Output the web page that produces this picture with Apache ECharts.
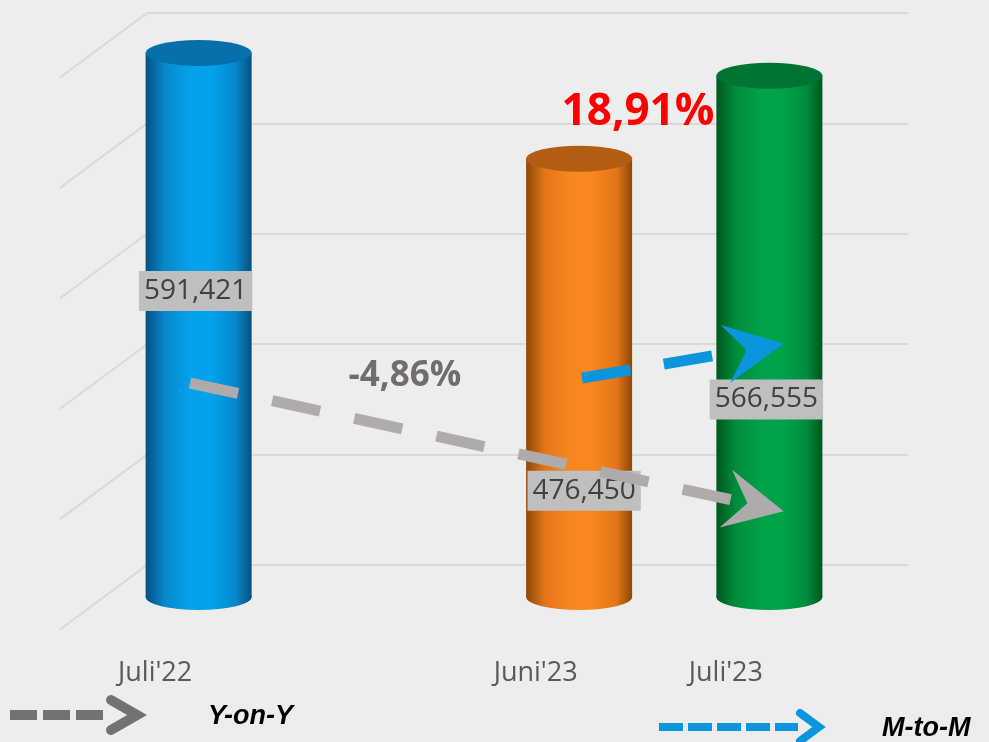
<!DOCTYPE html>
<html>
<head>
<meta charset="utf-8">
<script src="https://cdn.jsdelivr.net/npm/echarts@6/dist/echarts.min.js"></script>
<style>
html,body{margin:0;padding:0;background:#ededed;}
#chart{width:989px;height:742px;}
</style>
</head>
<body>
<div id="chart"></div>
<script>
// ---- data ----
const categories = ["Juli'22", "", "Juni'23", "Juli'23"];
const values = [591421, null, 476450, 566555];
const yMin = 0, yMax = 600000, yStep = 120000;
const yoyText = "-4,86%";
const mtmText = "18,91%";
// arrows in data space: [x position in category units, value]
const yoyArrow = [[-0.045, 232600], [2.923, 100100]];
const mtmArrow = [[2.015, 238000], [2.921, 269800]];
const legendNames = ["Y-on-Y", "M-to-M"];

// ---- styles ----
const palettes = [
  {dark:'#05507f', mid:'#0788cc', light:'#04a2ec', top:'#0670aa'},
  null,
  {dark:'#8e4708', mid:'#e47618', light:'#f8871f', top:'#b25e12'},
  {dark:'#00561f', mid:'#008c3c', light:'#00a24a', top:'#007533'}
];
function cyl(p){
  return {type:'linear',x:0,y:0,x2:1,y2:0,colorStops:[
    {offset:0,color:p.dark},{offset:0.18,color:p.mid},{offset:0.42,color:p.light},
    {offset:0.62,color:p.light},{offset:0.85,color:p.mid},{offset:1,color:p.dark}]};
}
const FONT = "'Open Sans', 'Noto Sans', sans-serif";
const labelOffsets = [[-3,-34],null,[5,113],[-3,63]];
const arrowHead = 'path://M22.5,0L45,59L22.5,37L0,59Z';

const ticks = [];
for (let v = yMin; v <= yMax; v += yStep) ticks.push(v);

const chart = echarts.init(document.getElementById('chart'), null, {renderer:'canvas'});

const option = {
  backgroundColor:'#ededed',
  animation:false,
  grid:[
    {left:147, right:81, top:13, bottom:177},
    {left:103.5, right:124.5, top:45, bottom:145},
    {left:60, right:168, top:77, bottom:112}
  ],
  xAxis:[
    {type:'category', gridIndex:0, data:categories, show:false},
    {type:'category', gridIndex:1, data:categories, show:false},
    {type:'category', gridIndex:2, data:categories,
      axisLine:{show:false}, axisTick:{show:false},
      axisLabel:{color:'#595959', fontSize:27, fontFamily:FONT, margin:30}},
    {type:'value', gridIndex:1, min:-0.5, max:3.5, show:false}
  ],
  yAxis:[
    {type:'value', gridIndex:0, min:yMin, max:yMax, interval:yStep,
      axisLine:{show:false}, axisTick:{show:false}, axisLabel:{show:false},
      splitLine:{show:true, lineStyle:{color:'#d9d9d9', width:2}}},
    {type:'value', gridIndex:1, min:yMin, max:yMax, interval:yStep, show:false, splitLine:{show:false}},
    {type:'value', gridIndex:2, min:yMin, max:yMax, interval:yStep, show:false, splitLine:{show:false}}
  ],
  series:[
    {
      type:'custom', xAxisIndex:0, yAxisIndex:0, silent:true, z:1,
      data: ticks.map(v => [0, v]),
      renderItem:(params, api) => {
        const cs = params.coordSys;
        const y = api.coord([0, api.value(1)])[1];
        return {type:'line', shape:{x1:cs.x, y1:y, x2:cs.x-87, y2:y+64.5},
          style:{stroke:'#d9d9d9', lineWidth:2}};
      }
    },
    {
      type:'pictorialBar', xAxisIndex:1, yAxisIndex:1, z:2, silent:true,
      symbol:'circle', symbolSize:[106,26], symbolPosition:'start', symbolOffset:[0,'50%'],
      data: values.map((v,i) => v == null ? '-' : {value:v, itemStyle:{color:cyl(palettes[i])}})
    },
    {
      type:'bar', xAxisIndex:1, yAxisIndex:1, z:3, barWidth:106, silent:true,
      data: values.map((v,i) => v == null ? '-' : {
        value:v, itemStyle:{color:cyl(palettes[i])},
        label:{offset:labelOffsets[i]}
      }),
      label:{show:true, position:'inside', fontFamily:FONT, fontSize:28, color:'#404040',
        backgroundColor:'#bfbfbf', padding:[5,5,5,5], lineHeight:30,
        formatter:p => Number(p.value).toLocaleString('en-US')}
    },
    {
      type:'pictorialBar', xAxisIndex:1, yAxisIndex:1, z:4, silent:true,
      symbol:'circle', symbolSize:[106,26], symbolPosition:'end', symbolOffset:[0,'-50%'],
      data: values.map((v,i) => v == null ? '-' : {value:v, itemStyle:{color:palettes[i].top}})
    },
    {
      type:'scatter', xAxisIndex:3, yAxisIndex:1, data:[], z:10, silent:true,
      markLine:{
        silent:true, animation:false, symbol:['none', arrowHead], symbolSize:[59,59],
        label:{show:false}, emphasis:{disabled:true},
        data:[
          [{coord:yoyArrow[0], lineStyle:{color:'#afabab', width:11, type:[49,35], cap:'butt'}, itemStyle:{color:'#afabab'}},
           {coord:yoyArrow[1]}],
          [{coord:mtmArrow[0], lineStyle:{color:'#0a96dc', width:11, type:[49,34], cap:'butt'}, itemStyle:{color:'#0a96dc'}},
           {coord:mtmArrow[1]}]
        ]
      }
    }
  ],
  graphic:[
    {type:'text', z:20, x:405, y:376, style:{text:yoyText, fill:'#716d6d',
      font:"bold 35px 'Open Sans', sans-serif", textAlign:'center', textVerticalAlign:'middle'}},
    {type:'text', z:20, x:638, y:112, style:{text:mtmText, fill:'#ff0000',
      font:"bold 44px 'Open Sans', sans-serif", textAlign:'center', textVerticalAlign:'middle'}},
    {type:'line', z:20, shape:{x1:10,y1:715,x2:104,y2:715}, style:{stroke:'#767171', lineWidth:10, lineDash:[27,6]}},
    {type:'polyline', z:20, shape:{points:[[111,700],[137,715],[111,730]]},
      style:{stroke:'#767171', lineWidth:10, fill:null, lineCap:'round', lineJoin:'miter'}},
    {type:'text', z:20, x:208, y:717, style:{text:legendNames[0], fill:'#000000',
      font:"italic bold 27px 'Liberation Sans Narrow', 'Liberation Sans', sans-serif", textVerticalAlign:'middle'}},
    {type:'line', z:20, shape:{x1:659,y1:727,x2:798,y2:727}, style:{stroke:'#0a96dc', lineWidth:8, lineDash:[24,5]}},
    {type:'polyline', z:20, shape:{points:[[800,713],[819,727],[800,741]]},
      style:{stroke:'#0a96dc', lineWidth:8, fill:null, lineCap:'round', lineJoin:'miter'}},
    {type:'text', z:20, x:882, y:729, style:{text:legendNames[1], fill:'#000000',
      font:"italic bold 27px 'Liberation Sans Narrow', 'Liberation Sans', sans-serif", textVerticalAlign:'middle'}}
  ]
};
chart.setOption(option);
</script>
</body>
</html>
